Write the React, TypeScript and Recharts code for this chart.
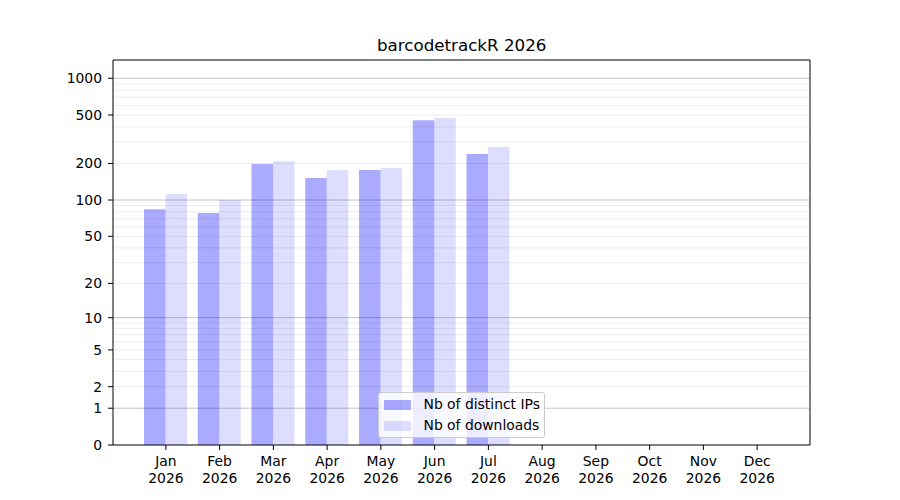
import React from 'react';
import { BarChart, Bar, XAxis, YAxis, ReferenceLine, Legend } from 'recharts';

// monthly downloads, 2026
const months = ['Jan', 'Feb', 'Mar', 'Apr', 'May', 'Jun', 'Jul', 'Aug', 'Sep', 'Oct', 'Nov', 'Dec'];
const year = '2026';
const distinctIPs = [84, 78, 198, 152, 177, 454, 239, 0, 0, 0, 0, 0];
const downloads = [112, 100, 209, 177, 184, 472, 273, 0, 0, 0, 0, 0];

const yTicks = [0, 1, 2, 5, 10, 20, 50, 100, 200, 500, 1000];
const majorGrid = [1, 10, 100, 1000];
const minorGrid = [
  2, 3, 4, 5, 6, 7, 8, 9,
  20, 30, 40, 50, 60, 70, 80, 90,
  200, 300, 400, 500, 600, 700, 800, 900,
];

const FONT = '"DejaVu Sans", sans-serif';
const IP_COLOR = '#0000ff';

// y axis is log10(1 + x)
const toT = (v: number) => Math.log10(1 + v);
const yTop = 3.15;

const data = months.map((m, i) => ({
  month: m,
  ips: toT(distinctIPs[i]),
  dl: toT(downloads[i]),
}));

const MonthTick = (props: any) => {
  const { x, y, payload } = props;
  return (
    <g transform={`translate(${x},${y})`}>
      <text textAnchor="middle" fontFamily={FONT} fontSize={13.9} fill="#000">
        <tspan x={0} dy={14}>{payload.value}</tspan>
        <tspan x={0} dy={16.6}>{year}</tspan>
      </text>
    </g>
  );
};

const yLabel = (t: number) => {
  const v = Math.round(Math.pow(10, t) - 1);
  return String(v);
};

const LegendBox = () => (
  <div
    style={{
      width: 167,
      height: 46,
      boxSizing: 'border-box',
      border: '1px solid #cccccc',
      borderRadius: 3,
      background: 'rgba(255,255,255,0.8)',
      fontFamily: FONT,
      fontSize: 13.9,
      position: 'relative',
    }}
  >
    {[
      { label: 'Nb of distinct IPs', op: 0.333 },
      { label: 'Nb of downloads', op: 0.133 },
    ].map((item, i) => (
      <div key={item.label} style={{ position: 'absolute', left: 5, top: 6 + i * 21, display: 'flex', alignItems: 'center', height: 11 }}>
        <span style={{ display: 'inline-block', width: 27, height: 10, background: IP_COLOR, opacity: item.op }} />
        <span style={{ marginLeft: 12.5, whiteSpace: 'nowrap', lineHeight: '11px' }}>{item.label}</span>
      </div>
    ))}
  </div>
);

export default function App() {
  return (
    <div style={{ position: 'absolute', left: 0, top: 0, width: 900, height: 500, background: '#fff' }}>
      <BarChart
        width={900}
        height={500}
        data={data}
        margin={{ top: 60, right: 90, bottom: 0, left: 0 }}
        barGap={0}
      >
        <XAxis
          dataKey="month"
          height={55}
          padding={{ left: 26, right: 26 }}
          tick={<MonthTick />}
          tickSize={5}
          tickMargin={2}
          tickLine={{ stroke: '#000' }}
          axisLine={{ stroke: '#000' }}
          interval={0}
        />
        {/* hidden unit axis, only used to place the right frame edge */}
        <XAxis xAxisId="frame" dataKey="edge" type="number" domain={[0, 1]} allowDataOverflow hide />
        <YAxis
          type="number"
          width={113}
          domain={[0, yTop]}
          ticks={yTicks.map(toT)}
          tickFormatter={yLabel}
          tickSize={5}
          tickMargin={6}
          tick={{ fill: '#000', fontFamily: FONT, fontSize: 13.9 }}
          tickLine={{ stroke: '#000' }}
          axisLine={{ stroke: '#000' }}
          interval={0}
        />
        {minorGrid.map((v) => (
          <ReferenceLine key={`mn-${v}`} y={toT(v)} stroke="#000" strokeOpacity={0.075} strokeWidth={1} />
        ))}
        {majorGrid.map((v) => (
          <ReferenceLine key={`mj-${v}`} y={toT(v)} stroke="#000" strokeOpacity={0.23} strokeWidth={1} />
        ))}
        <Bar dataKey="ips" name="Nb of distinct IPs" fill={IP_COLOR} fillOpacity={0.333} barSize={21.5} isAnimationActive={false} />
        <Bar dataKey="dl" name="Nb of downloads" fill={IP_COLOR} fillOpacity={0.133} barSize={21.5} isAnimationActive={false} />
        <ReferenceLine y={yTop} stroke="#000" strokeWidth={1} />
        <ReferenceLine xAxisId="frame" x={1} stroke="#000" strokeWidth={1} />
        <Legend
          layout="horizontal"
          verticalAlign="middle"
          align="center"
          content={() => <LegendBox />}
          wrapperStyle={{ left: 378, top: 392, width: 167, height: 46 }}
        />
      </BarChart>
      <svg width={900} height={500} style={{ position: 'absolute', left: 0, top: 0, pointerEvents: 'none' }}>
        <text x={461.7} y={51} textAnchor="middle" fontFamily={FONT} fontSize={16.7} fill="#000">
          barcodetrackR 2026
        </text>
      </svg>
    </div>
  );
}
